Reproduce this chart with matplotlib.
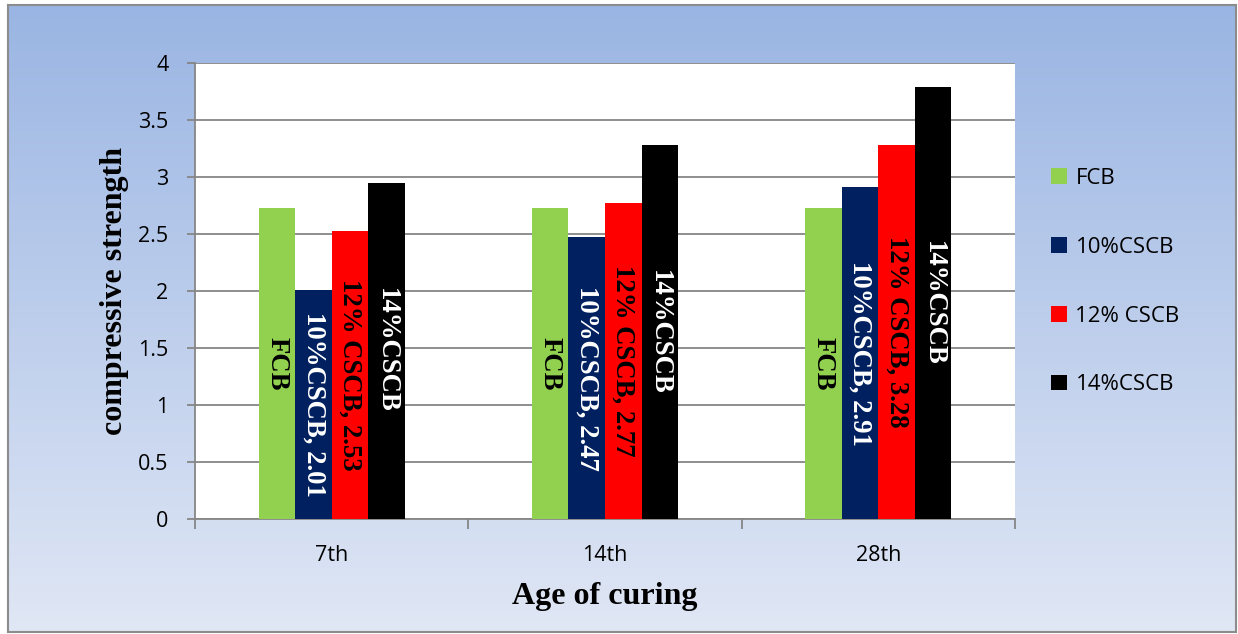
import matplotlib.pyplot as plt
import numpy as np
from matplotlib.colors import LinearSegmentedColormap
from matplotlib.patches import Patch

ages = ["7th", "14th", "28th"]
series = ["FCB", "10%CSCB", "12% CSCB", "14%CSCB"]
fcb = [2.73, 2.73, 2.73]
cscb10 = [2.01, 2.47, 2.91]
cscb12 = [2.53, 2.77, 3.28]
cscb14 = [2.95, 3.28, 3.79]
show_value = [False, True, True, False]

colors = ["#92D050", "#002060", "#FF0000", "#000000"]
text_colors = ["black", "white", "black", "white"]
yticks = [0, 0.5, 1, 1.5, 2, 2.5, 3, 3.5, 4]


def main() -> None:
    W, H = 1238, 634
    fig = plt.figure(figsize=(W / 100, H / 100), dpi=100)
    fig.patch.set_facecolor("white")

    # chart area background: vertical blue gradient inside a grey frame
    bg = fig.add_axes([8 / W, 2 / H, 1228 / W, 627 / H], zorder=0)
    cmap = LinearSegmentedColormap.from_list("bg", ["#9AB5E3", "#E0E7F5"])
    bg.imshow(np.linspace(0, 1, 256).reshape(-1, 1), aspect="auto", cmap=cmap,
              extent=[0, 1, 0, 1])
    bg.set_xticks([])
    bg.set_yticks([])
    for s in bg.spines.values():
        s.set_color("#8C8C8C")
        s.set_linewidth(1.5)

    ax = fig.add_axes([195 / W, 1 - 519 / H, 820 / W, 456 / H], zorder=1)
    ax.set_facecolor("white")

    values = [fcb, cscb10, cscb12, cscb14]
    x = np.arange(len(ages))
    width = 0.1337
    for i, (name, vals) in enumerate(zip(series, values)):
        pos = x + (i - 1.5) * width
        ax.bar(pos, vals, width=width, color=colors[i], label=name, zorder=3)
        for px, v in zip(pos, vals):
            txt = f"{name}, {v:.2f}" if show_value[i] else name
            ax.text(px, v / 2, txt, rotation=270, ha="center", va="center",
                    rotation_mode="anchor", color=text_colors[i],
                    fontfamily="Liberation Serif", fontweight="bold",
                    fontsize=19.3, zorder=4)

    ax.set_ylim(0, 4)
    ax.set_xlim(-0.5, len(ages) - 0.5)
    ax.set_yticks(yticks)
    ax.set_yticklabels([f"{t:g}" for t in yticks])
    ax.yaxis.grid(True, color="#868686", linewidth=1.3, zorder=0)
    ax.set_axisbelow(True)

    ax.set_xticks(np.arange(-0.5, len(ages)))
    ax.set_xticklabels([])
    ax.set_xticks(x, minor=True)
    ax.set_xticklabels(ages, minor=True)
    ax.tick_params(axis="x", which="major", length=7, width=1.3, color="#868686")
    ax.tick_params(axis="x", which="minor", length=0, pad=19, labelsize=15.5)
    ax.tick_params(axis="y", length=6, width=1.3, color="#868686", pad=13,
                   labelsize=15.5)
    for lab in ax.get_xticklabels(minor=True) + ax.get_yticklabels():
        lab.set_fontfamily("Open Sans")

    for side in ("top", "right"):
        ax.spines[side].set_visible(False)
    for side in ("left", "bottom"):
        ax.spines[side].set_color("#868686")
        ax.spines[side].set_linewidth(1.3)

    ax.set_ylabel("compressive strength", fontfamily="Liberation Serif",
                  fontweight="bold", fontsize=23, va="center")
    ax.yaxis.set_label_coords(-0.0976, 0.5)
    ax.set_xlabel("Age of curing", fontfamily="Liberation Serif",
                  fontweight="bold", fontsize=23, va="center")
    ax.xaxis.set_label_coords(0.5, -0.171)

    handles = [Patch(facecolor=c, label=s) for c, s in zip(colors, series)]
    fig.legend(handles=handles, loc="upper left",
               bbox_to_anchor=(1031 / W, 1 - 148 / H), frameon=False,
               prop={"family": "Open Sans", "size": 16},
               handlelength=0.7, handleheight=0.7, handletextpad=0.4,
               labelspacing=2.15)

    fig.savefig("out.png", dpi=100)
    plt.close(fig)


if __name__ == "__main__":
    main()
